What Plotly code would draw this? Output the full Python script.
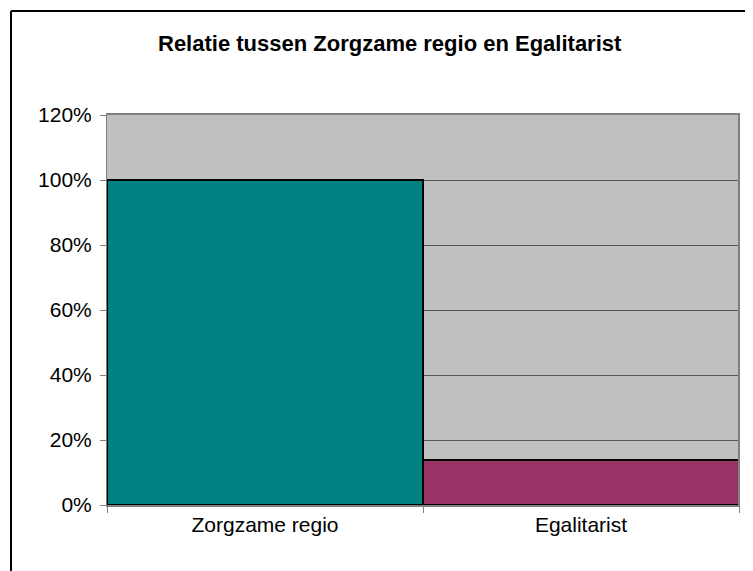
import plotly.graph_objects as go

categories = ["Zorgzame regio", "Egalitarist"]
values = [1.00, 0.14]
bar_colors = ["#008080", "#993366"]
tick_vals = [0, 0.2, 0.4, 0.6, 0.8, 1.0, 1.2]
tick_text = ["0%", "20%", "40%", "60%", "80%", "100%", "120%"]
title_text = "Relatie tussen Zorgzame regio en Egalitarist"

OFF = 8  # page body margin
W, H = 753 - OFF, 571 - OFF
ML, MR, MT, MB = 107 - OFF, 14, 115 - OFF, 66
PW, PH = W - ML - MR, H - MT - MB

def px_x(p):
    return (p - OFF - ML) / PW

def px_y(p):
    return (H - (p - OFF) - MB) / PH

fig = go.Figure()
fig.add_trace(go.Bar(
    x=categories, y=values, width=1,
    marker=dict(color=bar_colors, line=dict(color="black", width=2)),
    hoverinfo="skip",
))

font_family = "Liberation Sans, Arial, sans-serif"

fig.update_layout(
    width=W, height=H,
    margin=dict(l=ML, r=MR, t=MT, b=MB, pad=0),
    paper_bgcolor="white",
    plot_bgcolor="#C0C0C0",
    showlegend=False,
    bargap=0,
    font=dict(family=font_family, size=21, color="black"),
    xaxis=dict(
        type="category",
        tickson="boundaries",
        ticks="outside", ticklen=6, tickcolor="#808080", tickwidth=1,
        showline=True, linecolor="#808080", linewidth=2, mirror=True,
        showgrid=False,
        tickfont=dict(size=21),
    ),
    yaxis=dict(
        range=[0, 1.2],
        tickvals=tick_vals, ticktext=tick_text,
        ticks="outside", ticklen=6, tickcolor="#808080", tickwidth=1,
        showline=True, linecolor="#808080", linewidth=1, mirror=True,
        showgrid=True, gridcolor="#555555", gridwidth=1,
        zeroline=False,
        tickfont=dict(size=21),
        ticklabelstandoff=4,
    ),
    annotations=[dict(
        text="<b>" + title_text + "</b>",
        x=px_x(389.5), y=px_y(43), xref="paper", yref="paper",
        xanchor="center", yanchor="middle", showarrow=False,
        font=dict(family=font_family, size=22, color="black"),
    )],
    shapes=[
        dict(type="line", xref="paper", yref="paper",
             x0=px_x(11), x1=px_x(11), y0=px_y(575), y1=px_y(11),
             line=dict(color="black", width=2)),
        dict(type="line", xref="paper", yref="paper",
             x0=px_x(11), x1=px_x(760), y0=px_y(11), y1=px_y(11),
             line=dict(color="black", width=2)),
        dict(type="line", xref="paper", yref="paper",
             x0=1, x1=1, y0=0, y1=1,
             line=dict(color="#808080", width=2)),
    ],
)

fig.write_html("out.html")
